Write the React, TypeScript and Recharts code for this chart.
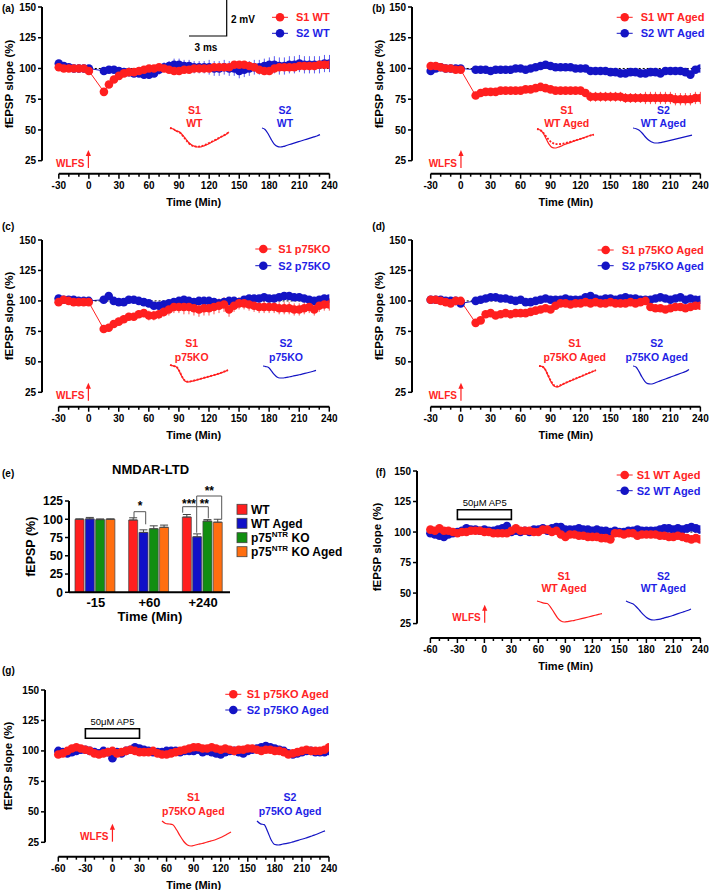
import React from 'react';
import { ComposedChart, LineChart, BarChart, Bar, Line, XAxis, YAxis, ReferenceLine, ReferenceArea, ErrorBar } from 'recharts';

const FONT = '"Liberation Sans", Arial, Helvetica, sans-serif';
const RED = '#ff1f1f';
const BLUE = '#1414c4';
const RED_T = '#ff2424';
const BLUE_T = '#1f1fe6';

// ---------- time axes ----------
const TIME_BASE = [-30, -25, -20, -15, -10, -5, 0, 15, 20, 25, 30, 35, 40, 45, 50, 55, 60, 65, 70, 75, 80, 85, 90, 95, 100, 105, 110, 115, 120, 125, 130, 135, 140, 145, 150, 155, 160, 165, 170, 175, 180, 185, 190, 195, 200, 205, 210, 215, 220, 225, 230, 235, 240];
const TIME_AP5 = [-60, -55, -50, -45, -40, -35, -30, -25, -20, -15, -10, -5, 0, 5, 10, 15, 20, 25, 30, 35, 40, 45, 50, 55, 60, 65, 70, 75, 80, 85, 90, 95, 100, 105, 110, 115, 120, 125, 130, 135, 140, 145, 150, 155, 160, 165, 170, 175, 180, 185, 190, 195, 200, 205, 210, 215, 220, 225, 230, 235, 240];
const XTICKS_30 = [-30, -20, -10, 0, 10, 20, 30, 40, 50, 60, 70, 80, 90, 100, 110, 120, 130, 140, 150, 160, 170, 180, 190, 200, 210, 220, 230, 240];
const XTICKS_60 = [-60, -50, -40, -30, -20, -10, 0, 10, 20, 30, 40, 50, 60, 70, 80, 90, 100, 110, 120, 130, 140, 150, 160, 170, 180, 190, 200, 210, 220, 230, 240];
const YTICKS = [25, 50, 75, 100, 125, 150];

// ---------- (a) WT ----------
const S1_A = [101, 100, 100, 100, 100, 100, 98, 81, 87, 91, 94, 96, 97, 97, 98, 99, 100, 100, 101, 100, 99, 98, 98, 99, 99, 100, 100, 100, 100, 101, 101, 101, 101, 103, 103, 103, 102, 101, 99, 98, 98, 100, 101, 101, 101, 101, 102, 102, 102, 102, 103, 103, 103];
const S2_A = [104, 102, 101, 100, 100, 100, 100, 98, 99, 99, 98, 97, 97, 96, 96, 95, 95, 96, 99, 101, 102, 103, 103, 102, 102, 101, 101, 101, 101, 100, 100, 101, 100, 100, 98, 99, 100, 101, 101, 102, 103, 103, 102, 102, 103, 103, 104, 103, 103, 103, 103, 104, 104];
const E2_A = [1, 1, 1, 1, 1, 1, 1, 2, 2, 2, 2, 2, 2, 2, 2, 3, 3, 3, 4, 4, 4, 5, 5, 5, 5, 5, 5, 5, 6, 6, 6, 6, 6, 6, 6, 6, 6, 6, 6, 6, 6, 7, 7, 7, 7, 7, 7, 7, 7, 7, 7, 7, 7];

// ---------- (b) WT Aged ----------
const S1_B = [102, 102, 101, 100, 100, 99, 99, 78, 80, 81, 81, 81, 82, 82, 82, 82, 82, 83, 83, 84, 85, 84, 83, 82, 82, 82, 82, 82, 82, 80, 77, 77, 77, 77, 77, 77, 77, 76, 76, 76, 76, 76, 76, 76, 76, 76, 76, 75, 75, 75, 75, 76, 76];
const E1_B = [1, 1, 1, 1, 1, 1, 1, 2, 2, 2, 2, 2, 2, 2, 2, 2, 2, 2, 2, 3, 3, 3, 3, 3, 3, 3, 3, 3, 3, 3, 4, 4, 4, 4, 4, 4, 4, 4, 4, 4, 4, 5, 5, 5, 5, 5, 5, 5, 5, 5, 5, 5, 5];
const S2_B = [98, 100, 101, 100, 100, 100, 100, 99, 99, 99, 98, 99, 99, 99, 99, 100, 100, 99, 100, 101, 102, 103, 102, 101, 101, 101, 101, 100, 100, 100, 98, 98, 98, 98, 97, 97, 96, 96, 97, 97, 96, 96, 97, 97, 96, 98, 98, 98, 98, 97, 95, 99, 100];

// ---------- (c) p75KO ----------
const S1_C = [99, 101, 100, 99, 99, 99, 99, 77, 78, 81, 83, 85, 87, 87, 89, 90, 88, 88, 89, 91, 93, 95, 95, 95, 95, 94, 93, 94, 94, 95, 96, 97, 93, 96, 98, 98, 97, 96, 95, 95, 95, 95, 94, 94, 94, 93, 93, 94, 95, 93, 96, 97, 97];
const E1_C = [1, 1, 1, 1, 1, 1, 1, 3, 3, 3, 3, 3, 3, 3, 3, 3, 4, 4, 4, 4, 5, 5, 5, 6, 6, 6, 6, 6, 6, 6, 6, 6, 6, 5, 5, 5, 5, 5, 5, 5, 5, 5, 5, 5, 5, 5, 5, 5, 5, 5, 5, 5, 5];
const S2_C = [102, 101, 101, 101, 100, 100, 100, 101, 104, 100, 99, 99, 101, 101, 100, 99, 98, 96, 96, 97, 98, 99, 100, 101, 100, 99, 100, 100, 100, 99, 98, 99, 100, 100, 99, 101, 102, 102, 102, 103, 102, 102, 103, 104, 104, 103, 103, 102, 101, 100, 101, 102, 102];

// ---------- (d) p75KO Aged ----------
const S1_D = [101, 101, 100, 99, 98, 100, 100, 82, 84, 89, 90, 88, 89, 90, 89, 90, 90, 90, 91, 92, 93, 94, 93, 96, 98, 98, 97, 98, 98, 99, 98, 99, 98, 98, 99, 98, 98, 98, 99, 98, 99, 100, 95, 94, 94, 93, 94, 95, 95, 94, 95, 96, 96];
const S2_D = [101, 101, 101, 100, 100, 100, 98, 100, 101, 102, 103, 103, 102, 102, 101, 100, 101, 99, 99, 100, 101, 102, 101, 101, 101, 102, 101, 101, 101, 103, 104, 102, 101, 102, 102, 101, 102, 103, 102, 102, 101, 101, 101, 102, 103, 102, 101, 102, 103, 101, 102, 101, 101];

// ---------- (f) WT Aged + AP5 ----------
const S1_F = [102, 101, 103, 101, 101, 100, 99, 100, 100, 101, 101, 101, 100, 100, 99, 99, 99, 99, 101, 103, 101, 101, 101, 100, 100, 102, 102, 100, 101, 98, 96, 98, 98, 97, 97, 96, 96, 96, 95, 95, 94, 99, 99, 98, 99, 99, 97, 98, 98, 98, 98, 97, 97, 96, 96, 97, 96, 95, 94, 95, 94];
const S2_F = [99, 98, 97, 96, 98, 99, 100, 101, 103, 102, 102, 101, 102, 101, 101, 102, 103, 105, 100, 101, 100, 101, 100, 102, 102, 103, 101, 103, 104, 104, 102, 102, 102, 103, 102, 102, 101, 102, 101, 101, 100, 101, 100, 100, 101, 101, 102, 101, 101, 101, 101, 102, 103, 103, 102, 103, 102, 103, 104, 103, 102];

// ---------- (g) p75KO Aged + AP5 ----------
const S1_G = [97, 98, 100, 102, 103, 102, 101, 100, 98, 97, 98, 99, 100, 98, 99, 100, 101, 100, 99, 99, 99, 100, 98, 97, 97, 98, 99, 100, 101, 102, 103, 103, 102, 102, 103, 102, 101, 102, 101, 100, 101, 101, 102, 102, 101, 100, 101, 101, 100, 100, 99, 97, 98, 99, 100, 101, 100, 100, 100, 101, 103];
const S2_G = [100, 99, 98, 99, 100, 101, 101, 100, 99, 98, 100, 99, 94, 99, 98, 100, 101, 103, 102, 101, 100, 99, 99, 99, 100, 100, 100, 99, 100, 100, 100, 101, 99, 100, 99, 98, 97, 99, 100, 100, 99, 98, 100, 101, 102, 103, 104, 103, 102, 101, 100, 98, 97, 98, 99, 100, 100, 99, 99, 99, 100];

// ---------- example fEPSP traces (normalised amplitude) ----------
const TR_A_S1 = [0, -0.05, -0.15, -0.2, -0.35, -0.55, -0.75, -0.88, -0.95, -0.98, -0.97, -0.92, -0.85, -0.77, -0.68, -0.6, -0.5, -0.42, -0.33, -0.2];
const TR_A_S1D = [0, -0.05, -0.15, -0.22, -0.38, -0.58, -0.78, -0.9, -0.95, -0.96, -0.94, -0.89, -0.82, -0.74, -0.66, -0.58, -0.49, -0.41, -0.32, -0.22];
const TR_A_S2 = [0, -0.08, -0.3, -0.6, -0.85, -0.97, -1.0, -0.97, -0.92, -0.87, -0.82, -0.77, -0.72, -0.67, -0.62, -0.57, -0.52, -0.47, -0.42, -0.35];
const TR_B_S1 = [0, -0.05, -0.2, -0.5, -0.8, -0.97, -1.0, -0.96, -0.9, -0.83, -0.77, -0.72, -0.66, -0.6, -0.55, -0.49, -0.44, -0.38, -0.33, -0.3];
const TR_B_S1D = [0, -0.05, -0.18, -0.38, -0.58, -0.72, -0.78, -0.8, -0.79, -0.76, -0.72, -0.68, -0.64, -0.59, -0.54, -0.49, -0.44, -0.38, -0.33, -0.3];
const TR_B_S2 = [0, -0.05, -0.15, -0.35, -0.6, -0.8, -0.93, -1.0, -1.0, -0.97, -0.93, -0.88, -0.83, -0.78, -0.73, -0.68, -0.63, -0.58, -0.53, -0.48];
const TR_C_S1 = [0, -0.05, -0.1, -0.35, -0.72, -0.95, -1.0, -0.96, -0.92, -0.87, -0.82, -0.77, -0.72, -0.67, -0.62, -0.57, -0.51, -0.45, -0.38, -0.3];
const TR_C_S1D = [0, -0.05, -0.1, -0.33, -0.7, -0.93, -0.98, -0.95, -0.91, -0.86, -0.81, -0.76, -0.71, -0.66, -0.61, -0.56, -0.5, -0.44, -0.37, -0.3];
const TR_C_S2 = [0, -0.05, -0.12, -0.4, -0.7, -0.92, -1.0, -1.0, -0.97, -0.93, -0.88, -0.83, -0.78, -0.73, -0.68, -0.62, -0.56, -0.5, -0.44, -0.37];
const TR_D_S1 = [0, -0.02, -0.15, -0.45, -0.75, -0.95, -1.0, -0.95, -0.87, -0.8, -0.74, -0.68, -0.62, -0.56, -0.5, -0.44, -0.38, -0.32, -0.26, -0.2];
const TR_D_S1D = [0, -0.02, -0.15, -0.43, -0.72, -0.92, -0.97, -0.93, -0.86, -0.79, -0.73, -0.67, -0.61, -0.55, -0.49, -0.43, -0.37, -0.31, -0.25, -0.2];
const TR_D_S2 = [0, -0.05, -0.3, -0.6, -0.85, -0.98, -1.0, -0.97, -0.9, -0.84, -0.78, -0.72, -0.66, -0.6, -0.54, -0.48, -0.42, -0.36, -0.3, -0.2];
const TR_F_S1 = [0, -0.05, -0.1, -0.12, -0.3, -0.55, -0.8, -0.95, -1.0, -0.98, -0.95, -0.92, -0.88, -0.84, -0.8, -0.76, -0.72, -0.68, -0.64, -0.6];
const TR_F_S2 = [0, -0.08, -0.15, -0.3, -0.5, -0.7, -0.87, -0.97, -1.0, -0.98, -0.95, -0.9, -0.85, -0.8, -0.74, -0.68, -0.62, -0.56, -0.5, -0.42];
const TR_G_S1 = [0, -0.1, -0.12, -0.15, -0.35, -0.6, -0.82, -0.96, -1.0, -0.97, -0.93, -0.9, -0.86, -0.82, -0.78, -0.73, -0.67, -0.6, -0.52, -0.44];
const TR_G_S2 = [0, -0.12, -0.15, -0.45, -0.8, -0.98, -1.0, -0.97, -0.94, -0.91, -0.87, -0.83, -0.78, -0.74, -0.69, -0.64, -0.59, -0.53, -0.47, -0.41];

// ---------- (e) bar chart ----------
const BAR_GROUPS = ['-15', '+60', '+240'];
const BAR_WT = [100, 99, 103];
const BAR_WTA = [100.5, 82, 76];
const BAR_KO = [99.5, 87, 97.5];
const BAR_KOA = [100, 89, 96];
const ERR_WT = [0.5, 3, 3.5];
const ERR_WTA = [2, 3.5, 4];
const ERR_KO = [1, 4, 2];
const ERR_KOA = [0.5, 3, 4];
const BAR_TICKS = [0, 25, 50, 75, 100, 125];

const T = ({ x, y, children, size = 11, color = '#000', anchor = 'middle', weight = 'bold', rotate = false }: any) => (
  <text x={x} y={y} fontSize={size} fill={color} textAnchor={anchor} dominantBaseline="central" fontWeight={weight}
    fontFamily={FONT} transform={rotate ? `rotate(-90 ${x} ${y})` : undefined}>{children}</text>
);

const XTick = (props: any) => {
  const { x, y, payload } = props;
  const v = payload.value;
  const major = v % 30 === 0;
  return (
    <g>
      <line x1={x} y1={y} x2={x} y2={y + (major ? 5 : 3)} stroke="#000" strokeWidth={1.5} />
      {major && <text x={x} y={y + 12} textAnchor="middle" dominantBaseline="central" fontSize={10} fontWeight="bold" fontFamily={FONT} fill="#000">{v}</text>}
    </g>
  );
};

function geomCalc(g: any, tStart: number) {
  const pxPerMin = (g.xLast - g.xFirst) / (240 - tStart);
  const xMin = tStart - (g.xFirst - g.yAxisX) / pxPerMin;
  const pxPerUnit = (g.y25 - g.y150) / 125;
  const yMin = 25 - (g.xAxisY - g.y25) / pxPerUnit;
  return { pxPerMin, xMin, yMin };
}

function TimeCourse({ p }: any) {
  const g = p.g;
  const { xMin, yMin } = geomCalc(g, p.tStart);
  const YW = 40, MT = 10, MR = 12, XH = 20;
  const width = YW + (g.xLast - g.yAxisX) + MR;
  const height = MT + (g.xAxisY - g.y150) + XH;
  const data = p.times.map((t: number, i: number) => ({
    t, s1: p.s1[i], s2: p.s2[i],
    e1: p.e1 ? p.e1[i] : 0, e2: p.e2 ? p.e2[i] : 0,
  }));
  return (
    <div style={{ position: 'absolute', left: g.yAxisX - YW, top: g.y150 - MT }}>
      <ComposedChart width={width} height={height} data={data} margin={{ top: MT, right: MR, bottom: 0, left: 0 }}>
        <XAxis type="number" dataKey="t" domain={[xMin, 240]} allowDataOverflow ticks={p.xTicks} interval={0}
          axisLine={false} tickLine={false} tickSize={0} tickMargin={0} height={XH} tick={<XTick />} />
        <YAxis type="number" domain={[yMin, 150]} allowDataOverflow ticks={YTICKS} interval={0} width={YW}
          axisLine={false} tickLine={{ stroke: '#000', strokeWidth: 1.5 }} tickSize={4} tickMargin={2}
          tick={{ fontSize: 10, fontWeight: 'bold', fill: '#000', fontFamily: FONT }} />
        {p.ap5 && <ReferenceArea x1={-30} x2={30} y1={110.4} y2={118.2} fill="#fff" fillOpacity={1} stroke="#000" strokeWidth={1.6} ifOverflow="visible" />}
        <Line dataKey="s2" stroke={BLUE} strokeWidth={1} isAnimationActive={false}
          dot={{ r: 4.3, fill: BLUE, stroke: BLUE, strokeWidth: 0 }}>
          {p.e2 && <ErrorBar dataKey="e2" width={0} stroke="#5a5af0" strokeWidth={1} direction="y" />}
        </Line>
        <Line dataKey="s1" stroke={RED} strokeWidth={1} isAnimationActive={false}
          dot={{ r: 4.3, fill: RED, stroke: RED, strokeWidth: 0 }}>
          {p.e1 && <ErrorBar dataKey="e1" width={0} stroke="#ff5050" strokeWidth={1} direction="y" />}
        </Line>
        <ReferenceLine segment={[{ x: p.tStart, y: 100 }, { x: 240, y: 100 }]} stroke="#000" strokeDasharray="2 2" strokeWidth={1} ifOverflow="visible" />
        <ReferenceLine segment={[{ x: xMin, y: 25 }, { x: xMin, y: 150 }]} stroke="#000" strokeWidth={2} ifOverflow="visible" />
        <ReferenceLine segment={[{ x: p.tStart, y: yMin }, { x: 240, y: yMin }]} stroke="#000" strokeWidth={2} ifOverflow="visible" />
      </ComposedChart>
    </div>
  );
}

function Trace({ box, solid, dashed, color }: any) {
  const [x, y, w, h] = box;
  const all = dashed ? solid.concat(dashed) : solid;
  const lo = Math.min(...all), hi = Math.max(...all);
  const data = solid.map((v: number, i: number) => ({ i, a: v, b: dashed ? dashed[i] : null }));
  return (
    <div style={{ position: 'absolute', left: x, top: y }}>
      <LineChart width={w} height={h} data={data} margin={{ top: 1, right: 1, bottom: 1, left: 1 }}>
        <XAxis type="number" dataKey="i" domain={['dataMin', 'dataMax']} hide />
        <YAxis type="number" domain={[lo, hi]} hide />
        <Line dataKey="a" type="monotone" stroke={color} strokeWidth={1.2} dot={false} isAnimationActive={false} />
        {dashed && <Line dataKey="b" type="monotone" stroke={color} strokeWidth={1.8} strokeDasharray="2 1.5" dot={false} isAnimationActive={false} />}
      </LineChart>
    </div>
  );
}

const PANELS: any[] = [
  {
    key: 'a', g: { yAxisX: 41.5, xFirst: 58.3, xLast: 329, y150: 7.3, y25: 161, xAxisY: 174 }, tStart: -30,
    times: TIME_BASE, xTicks: XTICKS_30, s1: S1_A, s2: S2_A, e2: E2_A,
    letter: [2, 8], ylab: [9, 84], legend: { mx: 280, tx: 296, y1: 17.3, y2: 33.3, l1: 'S1 WT', l2: 'S2 WT' },
    ins1: { cx: 194.3, y1: 110, y2: 123.3, l: 'WT' }, ins2: { cx: 285, y1: 110, y2: 123.3, l: 'WT' },
    tr1: { box: [169, 127, 61, 21], solid: TR_A_S1, dashed: TR_A_S1D }, tr2: { box: [261, 127, 60, 21], solid: TR_A_S2 },
  },
  {
    key: 'b', g: { yAxisX: 412.3, xFirst: 431, xLast: 700.7, y150: 7.3, y25: 161, xAxisY: 174 }, tStart: -30,
    times: TIME_BASE, xTicks: XTICKS_30, s1: S1_B, s2: S2_B, e1: E1_B,
    letter: [372.3, 8], ylab: [379, 84], legend: { mx: 624.7, tx: 640.7, y1: 17.3, y2: 33.3, l1: 'S1 WT Aged', l2: 'S2 WT Aged' },
    ins1: { cx: 566.7, y1: 110, y2: 123.3, l: 'WT Aged' }, ins2: { cx: 663.3, y1: 110, y2: 123.3, l: 'WT Aged' },
    tr1: { box: [536, 128, 59, 21], solid: TR_B_S1, dashed: TR_B_S1D }, tr2: { box: [632, 127, 61, 17], solid: TR_B_S2 },
  },
  {
    key: 'c', g: { yAxisX: 41.7, xFirst: 58.3, xLast: 329, y150: 240, y25: 392.3, xAxisY: 406.7 }, tStart: -30,
    times: TIME_BASE, xTicks: XTICKS_30, s1: S1_C, s2: S2_C, e1: E1_C,
    letter: [2, 226.7], ylab: [9, 316], legend: { mx: 263.3, tx: 278.3, y1: 249, y2: 265.7, l1: 'S1 p75KO', l2: 'S2 p75KO' },
    ins1: { cx: 191.7, y1: 343.3, y2: 356.7, l: 'p75KO' }, ins2: { cx: 286, y1: 343.3, y2: 356.7, l: 'p75KO' },
    tr1: { box: [169, 364, 60, 19], solid: TR_C_S1, dashed: TR_C_S1D }, tr2: { box: [262, 365, 55, 14], solid: TR_C_S2 },
  },
  {
    key: 'd', g: { yAxisX: 412.3, xFirst: 431, xLast: 700.7, y150: 240, y25: 392.3, xAxisY: 406.7 }, tStart: -30,
    times: TIME_BASE, xTicks: XTICKS_30, s1: S1_D, s2: S2_D,
    letter: [372.3, 226.7], ylab: [379, 316], legend: { mx: 605.7, tx: 621.7, y1: 250, y2: 265.7, l1: 'S1 p75KO Aged', l2: 'S2 p75KO Aged' },
    ins1: { cx: 574.7, y1: 343.3, y2: 356.7, l: 'p75KO Aged' }, ins2: { cx: 656.7, y1: 343.3, y2: 356.7, l: 'p75KO Aged' },
    tr1: { box: [538, 365, 59, 23], solid: TR_D_S1, dashed: TR_D_S1D }, tr2: { box: [632, 365, 58, 20], solid: TR_D_S2 },
  },
  {
    key: 'f', g: { yAxisX: 417.3, xFirst: 430.7, xLast: 700.7, y150: 470.7, y25: 623.3, xAxisY: 637.7 }, tStart: -60,
    times: TIME_AP5, xTicks: XTICKS_60, s1: S1_F, s2: S2_F, ap5: true,
    letter: [375.7, 472], ylab: [377, 547], legend: { mx: 624.7, tx: 636.7, y1: 475, y2: 490.7, l1: 'S1 WT Aged', l2: 'S2 WT Aged' },
    ins1: { cx: 564, y1: 575.7, y2: 588.3, l: 'WT Aged' }, ins2: { cx: 663.3, y1: 575.7, y2: 588.3, l: 'WT Aged' },
    tr1: { box: [536, 600, 67, 23], solid: TR_F_S1 }, tr2: { box: [625, 600, 67, 21], solid: TR_F_S2 },
  },
  {
    key: 'g', g: { yAxisX: 45, xFirst: 58.3, xLast: 329, y150: 690, y25: 842.3, xAxisY: 856.7 }, tStart: -60,
    times: TIME_AP5, xTicks: XTICKS_60, s1: S1_G, s2: S2_G, ap5: true,
    letter: [2, 670.7], ylab: [8.3, 766], legend: { mx: 233.3, tx: 246.7, y1: 694.3, y2: 710, l1: 'S1 p75KO Aged', l2: 'S2 p75KO Aged' },
    ins1: { cx: 193.3, y1: 797.3, y2: 810.7, l: 'p75KO Aged' }, ins2: { cx: 290, y1: 797.3, y2: 810.7, l: 'p75KO Aged' },
    tr1: { box: [161, 820, 71, 27], solid: TR_G_S1 }, tr2: { box: [256, 820, 70, 26], solid: TR_G_S2 },
  },
];

function PanelOverlay({ p }: any) {
  const g = p.g;
  const { pxPerMin } = geomCalc(g, p.tStart);
  const ax = g.xFirst + (0 - p.tStart) * pxPerMin;
  const far = p.tStart === -60;
  const ab = far ? g.xAxisY - 15 : g.xAxisY - 6;
  const at = ab - 18;
  const L = p.legend;
  return (
    <g>
      <T x={p.letter[0]} y={p.letter[1]} anchor="start" size={10}>({p.key})</T>
      <T x={p.ylab[0]} y={p.ylab[1]} size={11.5} rotate>fEPSP slope (%)</T>
      <T x={(g.xFirst + g.xLast) / 2} y={g.xAxisY + 28} size={11}>Time (Min)</T>
      <line x1={L.mx - 8} y1={L.y1} x2={L.mx + 8} y2={L.y1} stroke={RED} strokeWidth={1} />
      <circle cx={L.mx} cy={L.y1} r={4.3} fill={RED} />
      <T x={L.tx} y={L.y1} anchor="start" color={RED_T} size={11}>{L.l1}</T>
      <line x1={L.mx - 8} y1={L.y2} x2={L.mx + 8} y2={L.y2} stroke={BLUE} strokeWidth={1} />
      <circle cx={L.mx} cy={L.y2} r={4.3} fill={BLUE} />
      <T x={L.tx} y={L.y2} anchor="start" color={BLUE_T} size={11}>{L.l2}</T>
      <T x={ax - 4} y={ab - 5} anchor="end" color={RED_T} size={10}>WLFS</T>
      <line x1={ax} y1={ab} x2={ax} y2={at + 5} stroke={RED} strokeWidth={1.2} />
      <polygon points={`${ax - 2.6},${at + 6} ${ax + 2.6},${at + 6} ${ax},${at}`} fill={RED} />
      <T x={p.ins1.cx} y={p.ins1.y1} color={RED_T} size={10.5}>S1</T>
      <T x={p.ins1.cx} y={p.ins1.y2} color={RED_T} size={10.5}>{p.ins1.l}</T>
      <T x={p.ins2.cx} y={p.ins2.y1} color={BLUE_T} size={10.5}>S2</T>
      <T x={p.ins2.cx} y={p.ins2.y2} color={BLUE_T} size={10.5}>{p.ins2.l}</T>
      {p.ap5 && <T x={ax} y={g.y150 + (150 - 118.2) * (g.y25 - g.y150) / 125 - 7} size={9.5} weight="normal">50μM AP5</T>}
    </g>
  );
}

function BarPanel() {
  const data = BAR_GROUPS.map((gname, i) => ({
    g: gname, wt: BAR_WT[i], wta: BAR_WTA[i], ko: BAR_KO[i], koa: BAR_KOA[i],
    ewt: [0, ERR_WT[i]], ewta: [0, ERR_WTA[i]], eko: [0, ERR_KO[i]], ekoa: [0, ERR_KOA[i]],
  }));
  const YW = 40, MT = 8;
  const plotLeft = 69, plotRight = 230, plotTop = 501, plotBottom = 592.3;
  return (
    <div style={{ position: 'absolute', left: plotLeft - YW, top: plotTop - MT }}>
      <BarChart width={YW + (plotRight - plotLeft) + 4} height={MT + (plotBottom - plotTop) + 22} data={data}
        margin={{ top: MT, right: 4, bottom: 0, left: 0 }} barCategoryGap={6} barGap={1.3}>
        <XAxis dataKey="g" axisLine={{ stroke: '#000', strokeWidth: 2 }} tickLine={false} tickSize={4} tickMargin={1} height={22}
          tick={{ fontSize: 13, fontWeight: 'bold', fill: '#000', fontFamily: FONT }} />
        <YAxis type="number" domain={[0, 125]} ticks={BAR_TICKS} interval={0} width={YW}
          axisLine={{ stroke: '#000', strokeWidth: 2 }} tickLine={{ stroke: '#000', strokeWidth: 1.5 }} tickSize={4} tickMargin={2}
          tick={{ fontSize: 12, fontWeight: 'bold', fill: '#000', fontFamily: FONT }} />
        <Bar dataKey="wt" fill="#ff1f1f" stroke="#444" strokeWidth={0.7} isAnimationActive={false}>
          <ErrorBar dataKey="ewt" width={4} stroke="#444" strokeWidth={1} direction="y" />
        </Bar>
        <Bar dataKey="wta" fill="#1010c8" stroke="#444" strokeWidth={0.7} isAnimationActive={false}>
          <ErrorBar dataKey="ewta" width={4} stroke="#444" strokeWidth={1} direction="y" />
        </Bar>
        <Bar dataKey="ko" fill="#118e11" stroke="#444" strokeWidth={0.7} isAnimationActive={false}>
          <ErrorBar dataKey="eko" width={4} stroke="#444" strokeWidth={1} direction="y" />
        </Bar>
        <Bar dataKey="koa" fill="#ff6e10" stroke="#444" strokeWidth={0.7} isAnimationActive={false}>
          <ErrorBar dataKey="ekoa" width={4} stroke="#444" strokeWidth={1} direction="y" />
        </Bar>
      </BarChart>
    </div>
  );
}

function BarOverlay() {
  const legend = [
    { c: '#ff1f1f', y: 509.3, t: <tspan>WT</tspan> },
    { c: '#1010c8', y: 523.3, t: <tspan>WT Aged</tspan> },
    { c: '#118e11', y: 537.7, t: <tspan>p75<tspan fontSize={8} dy={-5}>NTR</tspan><tspan dy={5}> KO</tspan></tspan> },
    { c: '#ff6e10', y: 551.7, t: <tspan>p75<tspan fontSize={8} dy={-5}>NTR</tspan><tspan dy={5}> KO Aged</tspan></tspan> },
  ];
  return (
    <g>
      <T x={2} y={473} anchor="start" size={10}>(e)</T>
      <T x={150.6} y={469} size={13}>NMDAR-LTD</T>
      <T x={31} y={546.7} size={12.5} rotate>fEPSP (%)</T>
      <T x={150} y={616} size={13}>Time (Min)</T>
      <g fill="none" stroke="#555" strokeWidth={1}>
        <path d="M134,518.3 V511.7 H145.7 V524.3" />
        <path d="M182.7,512.7 V506.7 H196.7 V532.7" />
        <path d="M196.7,506.7 H208.3 V518.3" />
        <path d="M196.7,506.7 V496 H221.7 V519.3" />
      </g>
      <T x={140} y={506} size={12}>*</T>
      <T x={189} y={503.5} size={12}>***</T>
      <T x={204.3} y={503.5} size={12}>**</T>
      <T x={209.3} y={490.5} size={12}>**</T>
      {legend.map((l, i) => (
        <g key={i}>
          <rect x={237} y={l.y - 5} width={10} height={10} fill={l.c} stroke="#444" strokeWidth={0.8} />
          <text x={251} y={l.y + 4.3} fontSize={12} fontWeight="bold" fontFamily={FONT} fill="#000">{l.t}</text>
        </g>
      ))}
    </g>
  );
}

export default function App() {
  return (
    <div style={{ position: 'absolute', left: 0, top: 0, width: 709, height: 890, background: '#fff', overflow: 'hidden' }}>
      {PANELS.map((p) => <TimeCourse key={p.key} p={p} />)}
      {PANELS.map((p) => (
        <React.Fragment key={p.key + 't'}>
          <Trace box={p.tr1.box} solid={p.tr1.solid} dashed={p.tr1.dashed} color={RED} />
          <Trace box={p.tr2.box} solid={p.tr2.solid} color={BLUE} />
        </React.Fragment>
      ))}
      <BarPanel />
      <svg width={709} height={890} style={{ position: 'absolute', left: 0, top: 0, pointerEvents: 'none' }}>
        {PANELS.map((p) => <PanelOverlay key={p.key + 'o'} p={p} />)}
        <BarOverlay />
        {/* scale bar in panel (a) */}
        <path d="M226.7,0 V36 H189" fill="none" stroke="#000" strokeWidth={1.2} />
        <T x={231} y={19.3} anchor="start" size={10}>2 mV</T>
        <T x={206} y={47.3} size={10}>3 ms</T>
      </svg>
    </div>
  );
}
